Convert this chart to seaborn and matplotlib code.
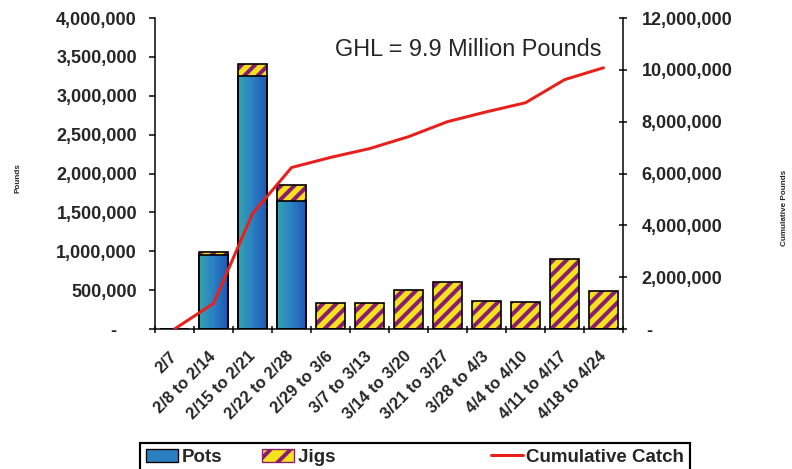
import numpy as np
import pandas as pd
import matplotlib
matplotlib.use("Agg")
import matplotlib.pyplot as plt
from matplotlib.colors import LinearSegmentedColormap
from matplotlib.patches import Patch
from matplotlib.lines import Line2D
from matplotlib.ticker import FuncFormatter, MultipleLocator
from matplotlib.transforms import ScaledTranslation
import seaborn as sns

# Weekly catch by gear type (pounds) and cumulative catch
weeks = ["2/7", "2/8 to 2/14", "2/15 to 2/21", "2/22 to 2/28", "2/29 to 3/6",
         "3/7 to 3/13", "3/14 to 3/20", "3/21 to 3/27", "3/28 to 4/3",
         "4/4 to 4/10", "4/11 to 4/17", "4/18 to 4/24"]
pots = [0, 950000, 3260000, 1650000, 0, 0, 0, 0, 0, 0, 0, 0]
jigs = [0, 35000, 150000, 200000, 340000, 340000, 500000, 605000,
        360000, 345000, 905000, 490000]
cumulative = [0, 985000, 4450000, 6230000, 6620000, 6960000, 7420000,
              8000000, 8380000, 8730000, 9620000, 10080000]

DPI = 120
PT = 72 / DPI  # points per pixel

YELLOW = "#f3e21c"
PURPLE = "#8a1c72"
RED = "#e8201c"
POTS_MID = "#2a7fc2"
pots_cmap = LinearSegmentedColormap.from_list("pots", ["#35a4b0", "#2a80c2", "#1f58b6"])

sns.set_theme(style="ticks")
plt.rcParams["font.family"] = ["Liberation Sans", "DejaVu Sans"]
plt.rcParams["font.weight"] = "bold"
plt.rcParams["hatch.linewidth"] = 4.0 * PT

df = pd.DataFrame({"week": weeks, "pots": pots, "jigs": jigs})
df["total"] = df["pots"] + df["jigs"]

fig = plt.figure(figsize=(792 / DPI, 469 / DPI), dpi=DPI)
ax = fig.add_axes([155 / 792, 1 - 329 / 469, (623 - 155) / 792, (329 - 18) / 469])

BAR_W = 0.72
STRIPES = "///"

# Jigs: full stack height with striped fill, pots drawn over the lower part
sns.barplot(data=df, x="week", y="total", color=YELLOW, saturation=1,
            width=BAR_W, hatch=STRIPES, edgecolor=PURPLE, linewidth=0, ax=ax)
n_before = len(ax.patches)
sns.barplot(data=df, x="week", y="pots", color=POTS_MID, saturation=1,
            width=BAR_W, linewidth=0, ax=ax)
pot_patches = ax.patches[n_before:]

# Horizontal teal-to-blue shading inside each pots bar
grad = np.linspace(0, 1, 128).reshape(1, -1)
for p in pot_patches:
    h = p.get_height()
    if h <= 0:
        continue
    x0, y0, w = p.get_x(), p.get_y(), p.get_width()
    im = ax.imshow(grad, cmap=pots_cmap, extent=(x0, x0 + w, y0, y0 + h),
                   aspect="auto", origin="lower", interpolation="bilinear",
                   zorder=p.get_zorder())
    im.set_clip_path(p)

# Black outlines around stacks and the pots/jigs boundary
sns.barplot(data=df, x="week", y="total", fill=False, color="black",
            width=BAR_W, linewidth=1.0, ax=ax)
sns.barplot(data=df, x="week", y="pots", fill=False, color="black",
            width=BAR_W, linewidth=1.0, ax=ax)

# Cumulative catch on the secondary axis
ax2 = ax.twinx()
sns.lineplot(x=np.arange(len(weeks)), y=cumulative, color=RED,
             linewidth=3 * PT, ax=ax2, legend=False)

ax.set_xlim(-0.5, len(weeks) - 0.5)
ax.set_ylim(0, 4000000)
ax2.set_ylim(0, 12000000)

ax.set_xlabel("")
ax.set_ylabel("")
ax2.set_xlabel("")
ax2.set_ylabel("")

# Category labels centred under bars, tick marks between categories
ax.set_xticks(np.arange(len(weeks)))
ax.set_xticklabels(weeks, rotation=45, ha="right", va="center",
                   rotation_mode="anchor", fontsize=16.5 * PT, fontweight="bold")
shift = ScaledTranslation(-5 / DPI, 0, fig.dpi_scale_trans)
for lab in ax.get_xticklabels():
    lab.set_transform(lab.get_transform() + shift)
ax.set_xticks(np.arange(-0.5, len(weeks)), minor=True)
ax.tick_params(axis="x", which="major", length=0, pad=25 * PT)
ax.tick_params(axis="x", which="minor", length=7 * PT, width=0.9,
               direction="inout", color="black")

ax.yaxis.set_major_locator(MultipleLocator(500000))
ax.yaxis.set_major_formatter(FuncFormatter(
    lambda v, p: "-    " if v == 0 else f"{v:,.0f}"))
ax.tick_params(axis="y", which="major", length=6 * PT, width=0.9,
               direction="out", pad=12 * PT, labelsize=18 * PT, color="black")

ax2.yaxis.set_major_locator(MultipleLocator(2000000))
ax2.yaxis.set_major_formatter(FuncFormatter(
    lambda v, p: " -" if v == 0 else f"{v:,.0f}"))
ax2.tick_params(axis="y", which="major", length=9 * PT, width=0.9,
                direction="inout", pad=14 * PT, labelsize=18 * PT, color="black")

for a in (ax, ax2):
    for lab in a.get_yticklabels():
        lab.set_fontweight("bold")
    a.spines["top"].set_visible(False)
    for s in ("left", "right", "bottom"):
        a.spines[s].set_color("black")
        a.spines[s].set_linewidth(0.9)
ax.spines["right"].set_visible(False)
ax2.spines["left"].set_visible(False)
ax2.spines["bottom"].set_visible(False)

fig.text(335 / 792, 1 - 50 / 469, "GHL = 9.9 Million Pounds",
         fontsize=23.5 * PT, fontweight="normal", ha="left", va="center")

fig.text(18 / 792, 1 - 178 / 469, "Pounds", rotation=90,
         fontsize=8.2 * PT, fontweight="bold", ha="center", va="center")
fig.text(784 / 792, 1 - 208 / 469, "Cumulative Pounds", rotation=90,
         fontsize=8.2 * PT, fontweight="bold", ha="center", va="center")

handles = [
    Patch(facecolor=POTS_MID, edgecolor="black", linewidth=0.8),
    Patch(facecolor=YELLOW, edgecolor=PURPLE, hatch="//", linewidth=0.8),
    Line2D([0], [0], color=RED, linewidth=3 * PT),
]
# trailing spaces widen the middle column so the entries sit like the original key
leg_labels = ["Pots", "Jigs" + " " * 22, "Cumulative Catch"]
leg = fig.legend(handles, leg_labels,
                 loc="upper left",
                 bbox_to_anchor=(140 / 792, 1 - 443 / 469, 550 / 792, 0),
                 mode="expand", ncol=3, frameon=True, fancybox=False,
                 framealpha=1, edgecolor="black", borderaxespad=0,
                 borderpad=0.3, handlelength=1.7, handleheight=0.7,
                 handletextpad=0.2,
                 prop={"weight": "bold", "size": 18.8 * PT})
leg.get_frame().set_linewidth(1.3)

fig.savefig("out.png", dpi=DPI)
